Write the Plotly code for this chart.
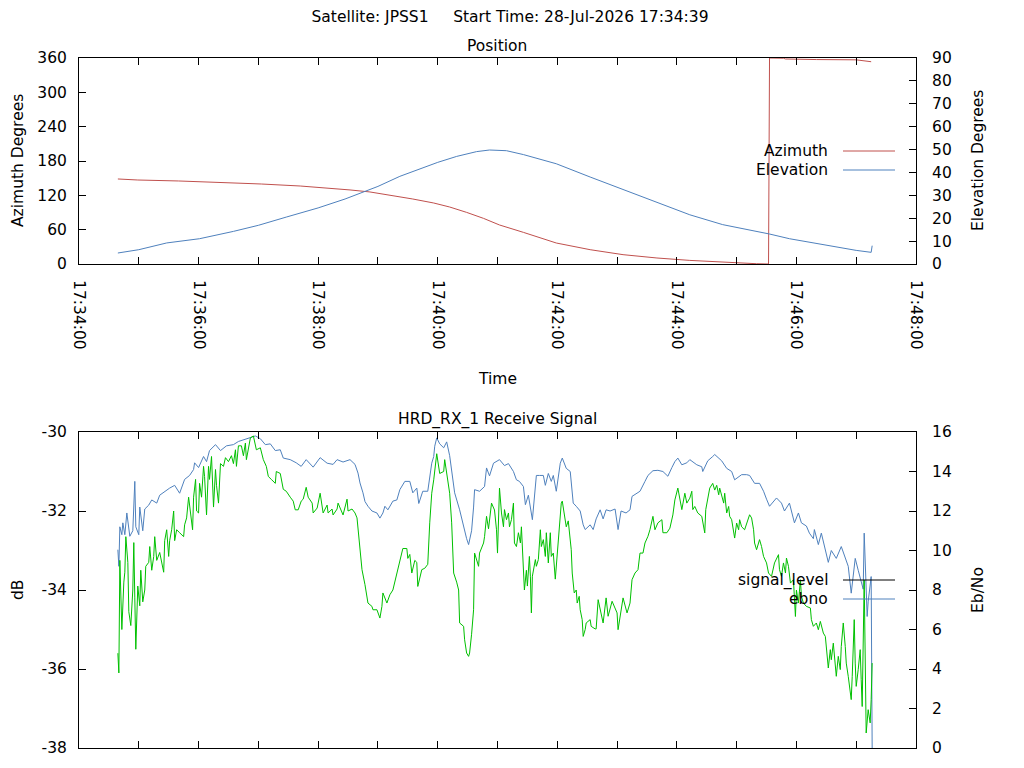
import pandas as pd
import plotly.graph_objects as go

START = pd.Timestamp('2026-07-28 17:34:00')
END = START + pd.Timedelta(minutes=14)

# --- Position panel (times are seconds after 17:34:00) ---
az_t = [39, 59, 100, 135, 183, 222, 250, 272, 292, 315,
        335, 356, 372, 389, 406, 422, 429, 446, 479, 513,
        546, 580, 613, 646, 670, 680, 692, 693, 707, 709,
        740, 780, 795]
az_deg = [148.6, 146.8, 145.1, 143.3, 139.8, 136.3, 132.8, 129.4, 125.9, 120.0,
          113.6, 106.6, 99.6, 90.2, 79.7, 68.2, 64.7, 55.3, 36.7, 25.0,
          16.3, 10.5, 6.3, 2.8, 1.0, 0.5, 0.0, 360.0, 359.6, 358.3,
          357.3, 356.8, 353.5]

el_t = [39, 60, 88, 121, 155, 180, 208, 240, 267, 289,
        300, 322, 342, 360, 379, 399, 412, 429, 446, 479,
        513, 546, 580, 613, 646, 680, 693, 713, 747, 780,
        795, 796]
el_deg = [4.8, 6.25, 9.2, 11.05, 14.25, 16.9, 20.5, 24.5, 28.4, 32.0,
          33.9, 38.3, 41.5, 44.4, 47.0, 49.1, 49.8, 49.5, 47.8, 43.8,
          38.0, 32.5, 26.9, 21.5, 17.2, 14.25, 13.1, 11.05, 8.3, 5.95,
          5.1, 8.0]

# --- Receive signal panel ---
sig_t = [39, 40, 41, 43, 44, 46, 48, 51, 54, 56,
         57, 60, 61, 64, 66, 70, 73, 78, 81, 86,
         91, 96, 101, 106, 111, 115, 116, 120, 125, 128,
         131, 137, 142, 148, 155, 160, 165, 172, 177, 182,
         187, 192, 197, 202, 205, 212, 218, 223, 228, 235,
         242, 249, 255, 259, 265, 272, 277, 280, 282, 285,
         287, 290, 294, 299, 302, 305, 307, 310, 315, 319,
         322, 327, 332, 335, 339, 341, 345, 350, 352, 354,
         356, 357, 359, 362, 366, 369, 372, 374, 377, 382,
         386, 389, 391, 394, 396, 397, 402, 407, 409, 412,
         416, 419, 422, 427, 431, 436, 439, 442, 446, 448,
         451, 455, 458, 459, 462, 466, 468, 471, 474, 476,
         479, 483, 485, 489, 493, 496, 499, 503, 506, 508,
         513, 516, 519, 523, 526, 529, 533, 538, 541, 544,
         549, 553, 555, 560, 563, 568, 571, 576, 581, 586,
         591, 595, 598, 601, 605, 610, 613, 620, 625, 626,
         631, 636, 638, 645, 650, 655, 658, 665, 670, 673,
         678, 683, 687, 690, 693, 700, 705, 708, 713, 718,
         722, 725, 730, 733, 737, 738, 742, 745, 750, 752,
         755, 760, 765, 770, 772, 775, 779, 782, 785, 787,
         788, 790, 791, 792, 794, 795, 796]
sig_db = [-32.98, -33.4, -32.4, -32.6, -32.3, -32.6, -32.05, -32.64, -32.5, -31.25,
          -32.4, -32.6, -31.9, -32.5, -31.95, -31.85, -31.72, -31.8, -31.6, -31.5,
          -31.42, -31.35, -31.55, -31.2, -31.1, -30.95, -30.78, -30.9, -30.62, -30.75,
          -30.47, -30.32, -30.47, -30.35, -30.32, -30.24, -30.2, -30.15, -30.1, -30.17,
          -30.32, -30.3, -30.47, -30.45, -30.66, -30.7, -30.78, -30.87, -30.7, -30.89,
          -30.65, -30.79, -30.82, -30.7, -30.76, -30.7, -30.82, -31.04, -31.29, -31.54,
          -31.76, -31.88, -32.0, -32.05, -32.18, -32.05, -31.88, -31.97, -31.75, -31.72,
          -31.46, -31.25, -31.25, -31.54, -31.42, -31.81, -31.5, -31.5, -31.17, -30.79,
          -30.62, -30.36, -30.15, -30.3, -30.4, -30.25, -30.6, -31.04, -31.54, -31.97,
          -32.4, -32.7, -32.85, -32.5, -31.9, -31.46, -31.5, -31.38, -30.91, -31.11,
          -30.79, -30.75, -30.7, -30.85, -30.8, -31.0, -31.21, -31.25, -31.38, -31.84,
          -31.6, -32.22, -31.4, -31.1, -31.1, -31.1, -31.35, -31.05, -31.25, -31.1,
          -31.5, -30.79, -30.66, -30.92, -31.0, -31.8, -31.88, -32.0, -32.35, -32.47,
          -32.35, -32.47, -32.2, -31.97, -32.2, -31.97, -32.0, -31.95, -32.47, -32.0,
          -32.05, -31.97, -31.63, -31.55, -31.5, -31.25, -31.1, -30.98, -30.97, -31.0,
          -31.12, -30.9, -30.75, -30.66, -30.83, -30.78, -30.7, -30.83, -30.88, -31.0,
          -30.73, -30.62, -30.57, -30.73, -30.92, -31.0, -31.21, -31.08, -31.08, -31.1,
          -31.3, -31.3, -31.5, -31.7, -31.88, -31.67, -31.8, -32.0, -31.8, -32.3,
          -32.05, -32.3, -32.38, -32.56, -32.7, -32.47, -32.85, -32.56, -33.06, -33.3,
          -33.0, -33.2, -32.9, -33.25, -33.4, -34.08, -33.2, -33.5, -33.75, -33.98,
          -32.56, -33.7, -34.67, -34.3, -33.74, -33.66, -38.0]

ebno_t = [39, 40, 41, 42, 43, 45, 46, 47, 49, 50,
          52, 54, 55, 56, 57, 59, 61, 62, 64, 66,
          67, 70, 71, 73, 75, 76, 78, 81, 83, 85,
          86, 88, 90, 91, 93, 95, 96, 98, 101, 105,
          106, 108, 110, 112, 114, 115, 117, 118, 120, 121,
          123, 125, 126, 128, 130, 131, 133, 135, 137, 138,
          140, 142, 145, 147, 150, 153, 155, 157, 158, 160,
          163, 165, 167, 168, 172, 175, 178, 182, 185, 188,
          190, 193, 197, 198, 202, 205, 208, 212, 215, 217,
          220, 223, 225, 228, 230, 234, 235, 239, 242, 245,
          249, 250, 254, 255, 259, 260, 264, 265, 269, 270,
          274, 277, 279, 280, 282, 284, 287, 289, 290, 294,
          295, 299, 302, 304, 305, 309, 312, 315, 319, 322,
          325, 329, 330, 332, 334, 337, 339, 340, 344, 347,
          350, 352, 354, 356, 357, 359, 362, 366, 367, 369,
          372, 374, 376, 379, 381, 382, 386, 387, 389, 391,
          392, 394, 396, 397, 401, 402, 406, 407, 409, 411,
          412, 414, 417, 419, 420, 421, 422, 424, 426, 427,
          429, 431, 432, 434, 436, 437, 439, 441, 443, 444,
          446, 447, 449, 450, 452, 453, 454, 455, 458, 459,
          461, 463, 464, 466, 468, 469, 471, 473, 474, 476,
          478, 479, 481, 483, 484, 485, 487, 489, 491, 493,
          494, 495, 497, 499, 500, 502, 503, 505, 506, 508,
          509, 513, 514, 518, 519, 521, 524, 526, 529, 531,
          535, 538, 540, 541, 544, 546, 550, 553, 555, 558,
          561, 563, 566, 568, 571, 573, 576, 578, 581, 585,
          586, 590, 593, 596, 598, 601, 605, 608, 610, 613,
          615, 616, 618, 621, 625, 626, 628, 629, 631, 633,
          636, 638, 640, 642, 643, 647, 648, 650, 652, 653,
          655, 657, 658, 660, 662, 663, 665, 668, 672, 673,
          675, 677, 678, 680, 683, 685, 687, 690, 692, 695,
          698, 702, 703, 705, 707, 709, 710, 712, 714, 717,
          719, 720, 722, 724, 725, 727, 730, 734, 735, 737,
          740, 742, 744, 747, 749, 750, 752, 754, 755, 757,
          759, 760, 762, 764, 765, 767, 769, 770, 772, 774,
          775, 776, 778, 779, 780, 782, 784, 785, 786, 788,
          789, 790, 792, 794, 795, 796]
ebno = [4.8, 3.8, 9.5, 6.7, 6.0, 8.4, 8.9, 10.7, 9.4, 6.9,
        6.2, 8.0, 10.4, 7.6, 5.0, 8.2, 7.2, 9.0, 7.4, 8.0,
        9.2, 9.4, 10.2, 9.0, 9.7, 10.7, 9.5, 9.9, 9.4, 8.9,
        10.5, 11.05, 9.7, 10.5, 11.05, 12.0, 10.5, 11.05, 10.9, 10.7,
        11.3, 11.65, 12.7, 12.0, 11.05, 12.7, 13.6, 12.0, 11.9, 13.4,
        12.7, 14.26, 13.75, 11.8, 14.26, 13.6, 14.76, 12.2, 14.1, 13.3,
        12.4, 14.4, 14.26, 14.7, 14.5, 14.8, 14.4, 15.1, 14.26, 15.3,
        15.3, 14.8, 15.44, 14.6, 15.7, 15.8, 15.1, 15.2, 14.6, 14.26,
        13.75, 13.6, 13.4, 14.0, 13.9, 13.1, 13.0, 12.7, 12.5, 12.06,
        12.06, 12.5, 12.6, 13.2, 12.7, 12.4, 11.9, 12.15, 12.9, 11.9,
        12.3, 11.9, 12.1, 11.8, 12.1, 12.4, 11.98, 11.8, 12.6, 12.0,
        12.1, 11.9, 11.65, 11.05, 9.87, 9.03, 8.27, 7.76, 7.34, 7.17,
        7.0, 7.0, 6.58, 7.17, 7.85, 7.34, 7.76, 8.0, 8.86, 9.5,
        10.1, 10.1, 9.6, 9.8, 8.86, 9.5, 9.4, 8.18, 9.03, 9.1,
        9.3, 11.4, 12.9, 13.58, 14.0, 14.9, 13.9, 14.0, 14.6, 13.8,
        12.9, 11.4, 8.86, 8.4, 8.0, 6.33, 6.16, 5.48, 4.81, 4.64,
        4.81, 5.76, 7.0, 9.87, 9.2, 9.87, 10.38, 10.7, 11.73, 11.1,
        11.55, 12.4, 12.05, 11.05, 9.87, 12.0, 13.16, 11.9, 11.2, 12.07,
        11.56, 11.9, 11.2, 11.56, 12.4, 10.38, 10.2, 10.9, 10.38, 11.2,
        9.37, 8.0, 9.0, 8.2, 9.7, 8.7, 6.84, 8.7, 9.54, 9.2,
        9.54, 11.05, 10.2, 10.55, 9.7, 10.9, 9.37, 10.9, 9.7, 9.87,
        8.55, 9.2, 10.2, 11.4, 12.4, 12.5, 11.7, 11.2, 11.5, 10.55,
        10.04, 8.86, 7.85, 8.0, 7.34, 7.68, 7.0, 6.5, 5.65, 6.0,
        6.33, 6.5, 6.16, 6.03, 6.03, 7.51, 6.84, 6.33, 7.6, 6.67,
        7.43, 7.09, 6.84, 5.99, 6.84, 7.6, 6.84, 7.34, 8.52, 8.86,
        9.03, 9.87, 9.87, 10.38, 10.72, 11.05, 11.73, 11.05, 11.4, 11.56,
        10.9, 10.9, 11.13, 11.8, 12.56, 13.16, 12.07, 12.9, 12.4, 12.65,
        13.0, 12.07, 12.23, 11.9, 11.73, 11.39, 10.89, 12.07, 12.74, 13.16,
        13.4, 13.06, 13.3, 12.82, 13.16, 12.4, 12.9, 11.9, 12.23, 11.73,
        11.56, 11.05, 10.63, 11.39, 11.05, 11.56, 11.2, 11.05, 11.73, 11.81,
        11.65, 11.05, 10.38, 10.04, 10.55, 10.2, 9.7, 9.37, 8.86, 8.69,
        9.37, 9.79, 9.03, 8.69, 9.37, 8.86, 9.62, 9.2, 8.35, 8.52,
        6.66, 8.0, 7.34, 8.52, 7.68, 7.34, 7.17, 7.09, 6.5, 6.16,
        6.33, 5.99, 6.41, 5.82, 5.65, 4.98, 4.05, 4.98, 4.47, 5.31,
        4.3, 3.63, 4.64, 3.97, 5.14, 6.33, 5.14, 4.3, 3.63, 2.95,
        2.45, 3.63, 6.5, 4.3, 3.12, 3.97, 4.98, 3.46, 2.1, 8.5,
        2.78, 0.76, 1.94, 1.27, 2.45, 4.3]

# dB tick labels as gnuplot prints them (plain hyphen minus)
db_ticks = [-38, -36, -34, -32, -30]
db_labels = ['-38', '-36', '-34', '-32', '-30']

assert len(az_t) == len(az_deg) and len(el_t) == len(el_deg)
assert len(sig_t) == len(sig_db) and len(ebno_t) == len(ebno)

RED = '#c0504d'
BLUE = '#4f81bd'
GREEN = '#00c000'
FONT = dict(family='DejaVu Sans', size=15.5, color='black')

# the page body has an 8px margin, so the figure is shrunk by that much
# and the plot boxes are given in page pixels
OFF = 8
W, H = 1024 - OFF, 768 - OFF
X0, X1, Y0, Y1 = 79, 916, 58, 748


def fx(px):
    return (px - X0) / (X1 - X0)


def fy(py):
    return (Y1 - py) / (Y1 - Y0)


def ts(secs):
    return START + pd.to_timedelta(secs, unit='s')


fig = go.Figure()
fig.add_trace(go.Scatter(x=ts(az_t), y=az_deg, mode='lines', name='Azimuth',
                         line=dict(color=RED, width=1), xaxis='x', yaxis='y'))
fig.add_trace(go.Scatter(x=ts(el_t), y=el_deg, mode='lines', name='Elevation',
                         line=dict(color=BLUE, width=1), xaxis='x', yaxis='y2'))
fig.add_trace(go.Scatter(x=ts(sig_t), y=sig_db, mode='lines', name='signal_level',
                         line=dict(color=BLUE, width=1), xaxis='x2', yaxis='y3'))
fig.add_trace(go.Scatter(x=ts(ebno_t), y=ebno, mode='lines', name='ebno',
                         line=dict(color=GREEN, width=1), xaxis='x2', yaxis='y4'))

common = dict(showline=True, linecolor='black', linewidth=1, ticks='inside',
              ticklen=7, tickwidth=1, tickcolor='black', showgrid=False,
              zeroline=False, tickfont=FONT, fixedrange=True)
time_axis = dict(common, type='date', range=[START, END], dtick=120000,
                 tickformat='%H:%M:%S', mirror='allticks',
                 minor=dict(dtick=60000, ticks='inside', ticklen=4,
                            tickcolor='black', showgrid=False))

top_dom = [fy(264), 1]
bot_dom = [0, fy(432)]

fig.update_layout(
    width=W, height=H,
    margin=dict(l=X0 - OFF, r=1024 - X1, t=Y0 - OFF, b=768 - Y1),
    paper_bgcolor='white', plot_bgcolor='white',
    font=FONT, showlegend=False,
    title=dict(text='Satellite: JPSS1\u00a0\u00a0\u00a0\u00a0\u00a0Start Time: 28-Jul-2026 17:34:39',
               xref='paper', x=fx(510), xanchor='center',
               yref='container', y=1 - (17 - OFF) / H, yanchor='middle', font=FONT),
    xaxis=dict(time_axis, domain=[0, 1], anchor='y', tickangle=90,
               ticklabelstandoff=12),
    yaxis=dict(common, domain=top_dom, anchor='x', range=[0, 360], dtick=60,
               ticklabelstandoff=8),
    yaxis2=dict(common, overlaying='y', side='right', anchor='x', range=[0, 90],
                dtick=10, ticklabelstandoff=12),
    xaxis2=dict(time_axis, domain=[0, 1], anchor='y3', showticklabels=False),
    yaxis3=dict(common, domain=bot_dom, anchor='x2', range=[-38, -30],
                tickmode='array', tickvals=db_ticks, ticktext=db_labels,
                ticklabelstandoff=8),
    yaxis4=dict(common, overlaying='y3', side='right', anchor='x2', range=[0, 16],
                dtick=2, ticklabelstandoff=12),
)

# panel titles and axis titles (page pixel positions)
labels = [
    ('Position', 497, 46, 0),
    ('HRD_RX_1 Receive Signal', 497, 420, 0),
    ('Time', 497, 379, 0),
    ('Azimuth Degrees', 18, 161, -90),
    ('Elevation Degrees', 978, 161, -90),
    ('dB', 18, 590, -90),
    ('Eb/No', 978, 590, -90),
]
for text, x, y, ang in labels:
    fig.add_annotation(text=text, x=fx(x), y=fy(y), xref='paper', yref='paper',
                       xanchor='center', yanchor='middle', textangle=ang,
                       showarrow=False, font=FONT)

# gnuplot-style keys: label on the left, line sample on the right
keys = [
    ('Azimuth', RED, 151),
    ('Elevation', BLUE, 170),
    ('signal_level', 'black', 580),
    ('ebno', BLUE, 599),
]
for text, color, y in keys:
    fig.add_annotation(text=text, x=fx(830), y=fy(y), xref='paper', yref='paper',
                       xanchor='right', yanchor='middle', showarrow=False, font=FONT)
    fig.add_shape(type='line', xref='paper', yref='paper',
                  x0=fx(843), x1=fx(895), y0=fy(y), y1=fy(y),
                  line=dict(color=color, width=1))

fig.write_html('out.html')
